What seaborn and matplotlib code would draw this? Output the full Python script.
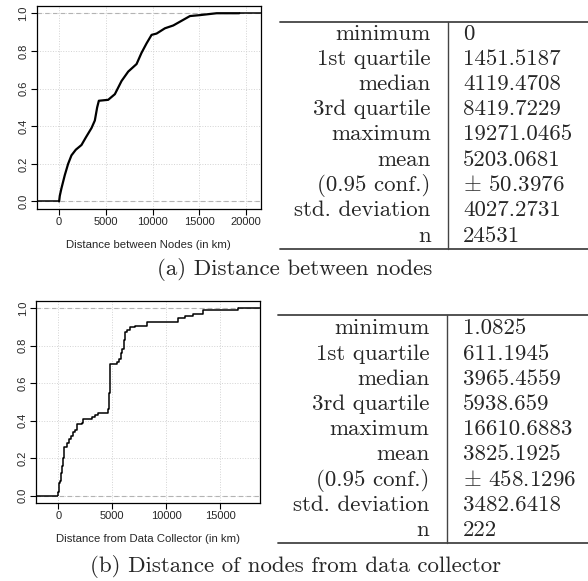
import matplotlib
matplotlib.use("Agg")
import matplotlib.pyplot as plt
import seaborn as sns

# ECDF knots (x in km, cumulative fraction)
nodes_x = [0, 71, 250, 607, 964, 1321, 1786, 2393, 2857, 3464, 3821, 4071, 4250,
           5250, 5964, 6679, 7393, 8286, 8821, 9357, 9893, 10429, 11321, 12214,
           13107, 14000, 15071, 16857, 19271]
nodes_y = [0, 0.03, 0.07, 0.14, 0.20, 0.245, 0.275, 0.30, 0.34, 0.39, 0.43, 0.50, 0.535,
           0.54, 0.57, 0.64, 0.69, 0.73, 0.79, 0.84, 0.885, 0.892, 0.92, 0.935,
           0.96, 0.985, 0.99, 1.0, 1.0]

collector_x = [1, 60, 155, 247, 371, 464, 556, 773, 989, 1174, 1390, 1545, 1761, 2163,
               2318, 3090, 3399, 3708, 4635, 4728, 4790, 5469, 5624, 5778, 5902, 6087,
               6211, 6396, 6644, 7107, 8189, 11124, 11742, 12515, 13442, 16610]
collector_y = [0.02, 0.07, 0.08, 0.12, 0.16, 0.20, 0.26, 0.28, 0.30, 0.32, 0.34, 0.35,
               0.38, 0.39, 0.41, 0.42, 0.43, 0.44, 0.46, 0.55, 0.70, 0.71, 0.73, 0.76,
               0.78, 0.83, 0.87, 0.885, 0.90, 0.905, 0.925, 0.945, 0.955, 0.97, 0.99, 1.0]

stat_names = ["minimum", "1st quartile", "median", "3rd quartile", "maximum", "mean",
              "(0.95 conf.)", "std. deviation", "n"]
nodes_stats = ["0", "1451.5187", "4119.4708", "8419.7229", "19271.0465", "5203.0681",
               r"$\pm$ 50.3976", "4027.2731", "24531"]
collector_stats = ["1.0825", "611.1945", "3965.4559", "5938.659", "16610.6883", "3825.1925",
                   r"$\pm$ 458.1296", "3482.6418", "222"]

sns.set_theme(style="white")
plt.rcParams["font.family"] = ["Liberation Sans", "DejaVu Sans"]
plt.rcParams["mathtext.fontset"] = "cm"

W, H = 588, 581
fig = plt.figure(figsize=(W / 100, H / 100), dpi=100)


def ecdf_panel(rect, xs, ys, xlim, xticks, xlabel, steps):
    ax = fig.add_axes([rect[0] / W, 1 - rect[3] / H, (rect[2] - rect[0]) / W, (rect[3] - rect[1]) / H])
    ax.set_xlim(*xlim)
    ax.set_ylim(-0.04, 1.04)
    ax.set_xticks(xticks)
    ax.set_yticks([0, 0.2, 0.4, 0.6, 0.8, 1.0])
    ax.set_yticklabels(["0.0", "0.2", "0.4", "0.6", "0.8", "1.0"], rotation=90, va="center")
    ax.grid(True, color="#d3d3d3", linestyle=":", linewidth=0.7)
    for yv in (0, 1):
        ax.axhline(yv, color="#b3b3b3", linestyle=(0, (4, 3)), linewidth=0.8, zorder=1)
    # flat tails of the ECDF outside the data range
    ax.hlines(0, xlim[0], xs[0], color="black", linewidth=1.1, zorder=3)
    ax.hlines(1, xs[-1], xlim[1], color="black", linewidth=1.1, zorder=3)
    ax.vlines(xs[0], 0, ys[0], color="black", linewidth=1.1, zorder=3)
    if steps:
        sns.lineplot(x=xs, y=ys, ax=ax, color="black", linewidth=1.1,
                     drawstyle="steps-post", estimator=None, zorder=3)
    else:
        sns.lineplot(x=xs, y=ys, ax=ax, color="black", linewidth=1.6,
                     estimator=None, zorder=3)
    for s in ax.spines.values():
        s.set_visible(True)
        s.set_color("black")
        s.set_linewidth(0.9)
    ax.tick_params(axis="both", which="both", direction="out", length=4.3, width=0.8,
                   color="black", labelsize=8, bottom=True, left=True)
    ax.tick_params(axis="x", pad=1.5)
    ax.tick_params(axis="y", pad=1.5)
    ax.set_xlabel(xlabel, fontsize=8.2, labelpad=9)
    ax.set_ylabel("")
    return ax


ecdf_panel((36.5, 5.7, 261, 209), nodes_x, nodes_y, (-2420, 21600),
           [0, 5000, 10000, 15000, 20000], "Distance between Nodes (in km)", False)
ecdf_panel((35.7, 300.5, 260, 503.3), collector_x, collector_y, (-2093, 18676),
           [0, 5000, 10000, 15000], "Distance from Data Collector (in km)", True)

# tables and captions on an overlay in pixel coordinates
tx = fig.add_axes([0, 0, 1, 1])
tx.set_xlim(0, W)
tx.set_ylim(H, 0)
tx.axis("off")
tx.patch.set_alpha(0)

serif = {"family": "cmr10", "size": 16.5}


def table(top, bottom, sep, lab_x, val_x, base0, pitch, x0, values):
    tx.plot([x0, W], [top, top], color="#444444", linewidth=1.3)
    tx.plot([x0, W], [bottom, bottom], color="#444444", linewidth=1.3)
    tx.plot([sep, sep], [top, bottom], color="#444444", linewidth=1.0)
    for i, (name, val) in enumerate(zip(stat_names, values)):
        y = base0 + i * pitch
        tx.text(lab_x, y, name, ha="right", va="baseline", fontdict=serif)
        tx.text(val_x, y, val, ha="left", va="baseline", fontdict=serif)


table(21.7, 249, 448.3, 430.7, 463.3, 39.5, 25.25, 280, nodes_stats)
table(315, 543.3, 446.7, 429.3, 462.7, 334.3, 25.2, 278, collector_stats)

tx.text(295, 269.5, "(a) Distance between nodes", ha="center", va="center", fontdict=serif)
tx.text(295, 566, "(b) Distance of nodes from data collector", ha="center", va="center",
        fontdict=serif)

fig.savefig("out.png", dpi=100)
